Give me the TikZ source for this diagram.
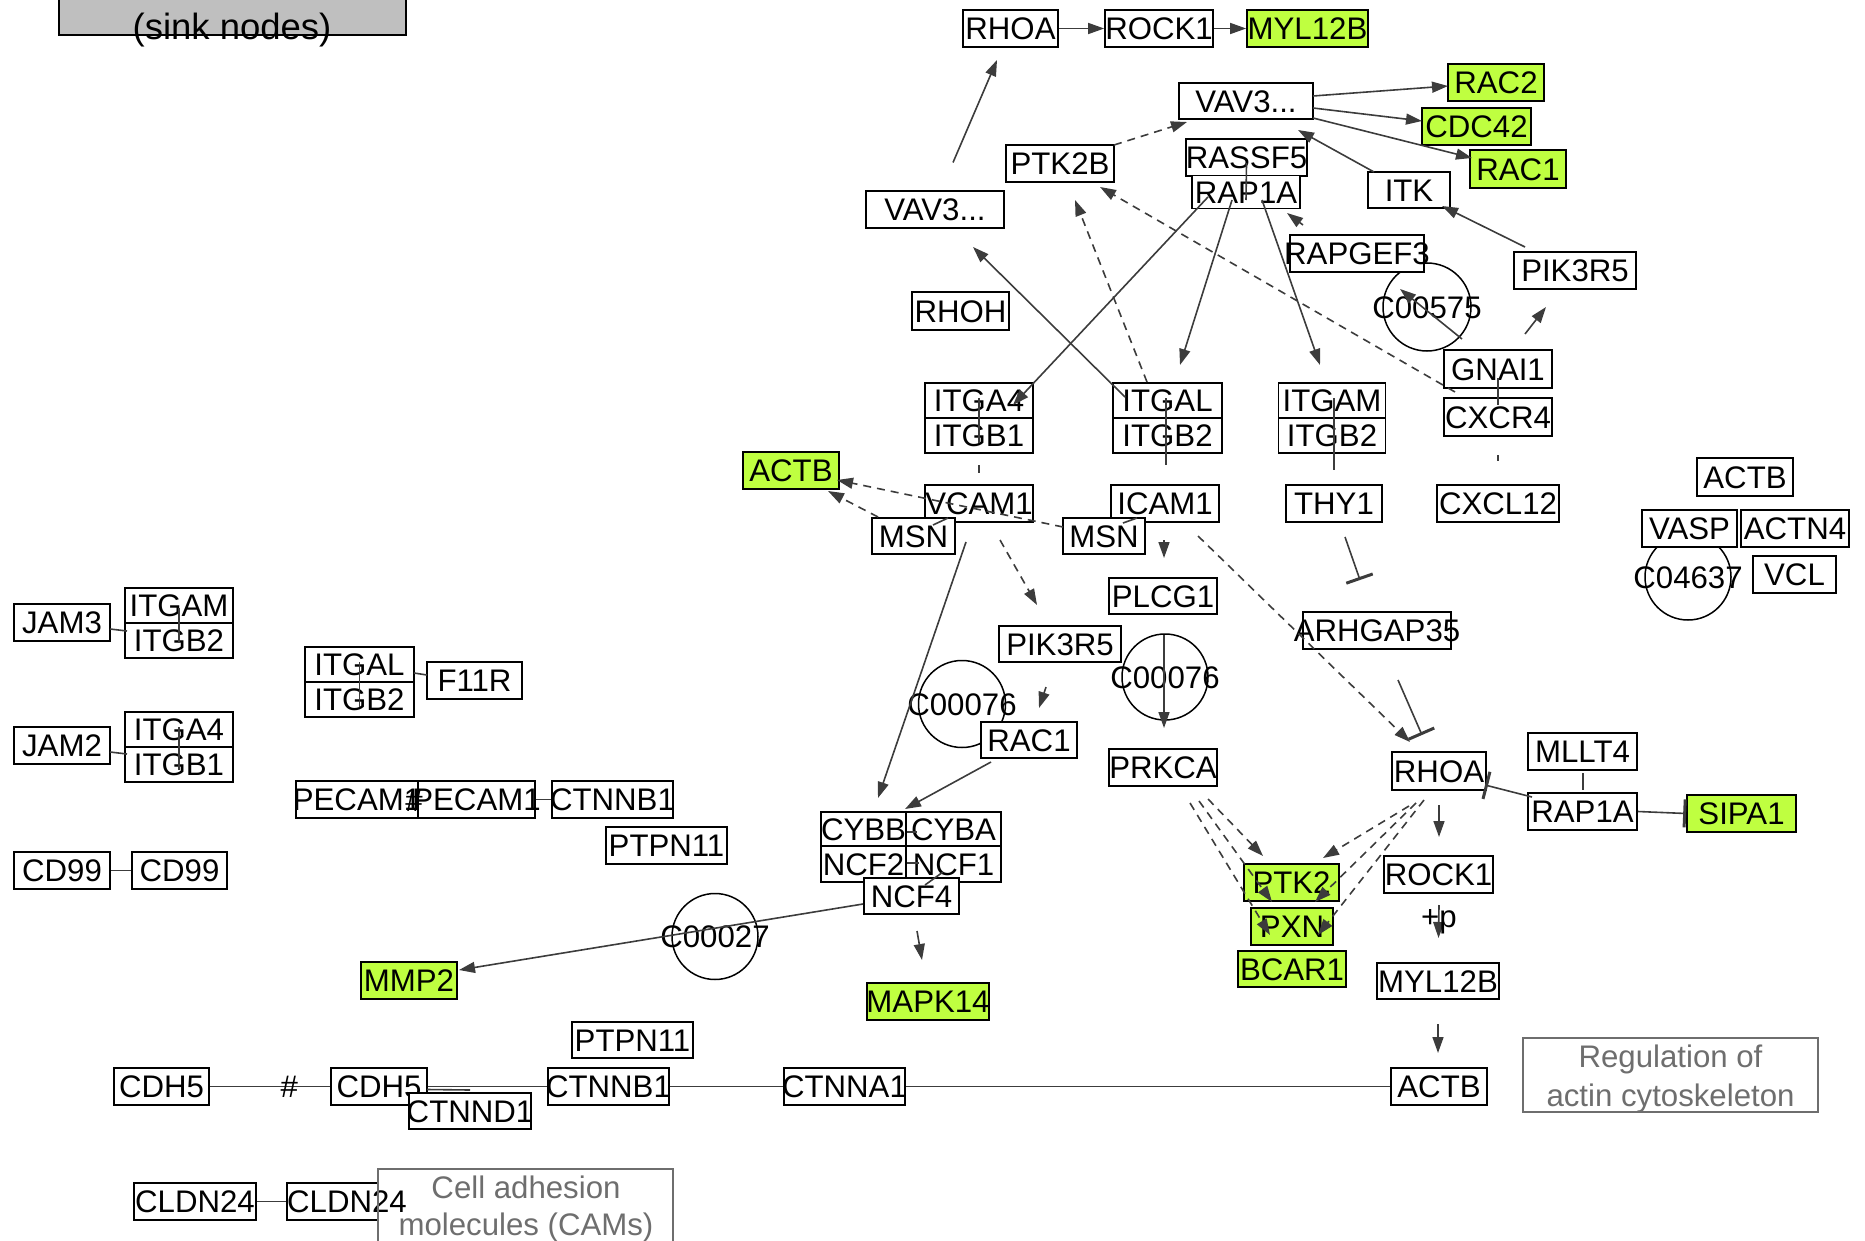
\documentclass[tikz,border=0pt]{standalone}
\usepackage{fontspec}
\setmainfont{Liberation Sans}
\usetikzlibrary{arrows.meta}
\definecolor{hit}{RGB}{191,255,64}
\definecolor{edge}{RGB}{60,60,60}
\definecolor{legendgray}{RGB}{191,191,191}
\definecolor{notegray}{RGB}{110,110,110}
\newcommand\fs{\fontsize{31.2}{36}\selectfont}
\newcommand\fl{\fontsize{36.5}{42}\selectfont}
\newcommand\mb[1]{\makebox[0pt]{#1}}
\begin{document}
\begin{tikzpicture}[x=1pt,y=-1pt,
 g/.style={draw=black,line width=1.7pt,fill=white,inner sep=0pt,minimum height=37pt,text height=22.3pt,text depth=0pt,font=\fs},
 hitg/.style={g,fill=hit},
 cpd/.style={draw=black,line width=1.5pt,circle,inner sep=0pt,text height=22.3pt,text depth=0pt,font=\fs},
 lbl/.style={inner sep=0pt,text height=22.3pt,text depth=0pt,font=\fs},
 note/.style={draw=notegray,line width=1.5pt,inner sep=0pt},
 notetext/.style={lbl,text=notegray},
 con/.style={draw=edge,line width=1.6pt},
 arr/.style={con,-{Triangle[length=16pt,width=11pt]}},
 darr/.style={arr,dash pattern=on 8pt off 6pt},
 dcon/.style={con,dash pattern=on 8pt off 6pt},
 inh/.style={con,-{Bar[width=28pt,line width=3pt]}},
]
\useasboundingbox (0,0) rectangle (1865,1241);

% legend
\node[draw=black,line width=1.7pt,fill=legendgray,minimum width=347pt,minimum height=80pt,inner sep=0pt] (legend) at (232.5,-5) {};
\node[inner sep=0pt,text height=26pt,text depth=0pt,font=\fl] (legendt) at (232,26.5) {(sink nodes)};

% compounds
\node[cpd,minimum size=88pt] (c00575) at (1427,307) {\mb{C00575}};
\node[cpd,minimum size=86pt] (c04637) at (1688,577) {\mb{C04637}};
\node[cpd,minimum size=87pt] (c00076a) at (962,704) {\mb{C00076}};
\node[cpd,minimum size=86pt] (c00076b) at (1165,677) {\mb{C00076}};
\node[cpd,minimum size=86pt] (c00027) at (715,936.5) {\mb{C00027}};

% genes
\node[g,minimum width=95pt] (rhoaT) at (1010.5,28.5) {\mb{RHOA}};
\node[g,minimum width=108pt] (rock1T) at (1159,28.5) {\mb{ROCK1}};
\node[hitg,minimum width=121pt] (myl12bT) at (1307.5,28.5) {\mb{MYL12B}};
\node[g,minimum width=134pt,minimum height=36pt] (vav3T) at (1246,101) {\mb{VAV3...}};
\node[hitg,minimum width=96pt] (rac2) at (1496,82.5) {\mb{RAC2}};
\node[hitg,minimum width=109pt] (cdc42) at (1476.5,126.5) {\mb{CDC42}};
\node[hitg,minimum width=96pt,minimum height=38pt] (rac1T) at (1518,169) {\mb{RAC1}};
\node[g,minimum width=108pt] (ptk2b) at (1060,163.5) {\mb{PTK2B}};
\node[g,minimum width=121pt] (rassf5) at (1246.5,157.5) {\mb{RASSF5}};
\node[g,minimum width=108pt,minimum height=33pt] (rap1aT) at (1246,192) {\mb{RAP1A}};
\node[g,minimum width=82pt,minimum height=36pt] (itk) at (1409,190) {\mb{ITK}};
\node[g,minimum width=138pt] (vav3L) at (935,209.5) {\mb{VAV3...}};
\node[g,minimum width=134pt] (rapgef3) at (1357,253.5) {\mb{RAPGEF3}};
\node[g,minimum width=122pt] (pik3r5R) at (1575,270.5) {\mb{PIK3R5}};
\node[g,minimum width=97pt,minimum height=38pt] (rhoh) at (960.5,311) {\mb{RHOH}};
\node[g,minimum width=108pt,minimum height=38pt] (gnai1) at (1498,369) {\mb{GNAI1}};
\node[g,minimum width=108pt,minimum height=38pt] (cxcr4) at (1498,417) {\mb{CXCR4}};
\node[g,minimum width=108pt,minimum height=35pt] (itga4M) at (979,400.5) {\mb{ITGA4}};
\node[g,minimum width=108pt,minimum height=35pt] (itgb1M) at (979,435.5) {\mb{ITGB1}};
\node[g,minimum width=109pt,minimum height=35pt] (itgalM) at (1167.5,400.5) {\mb{ITGAL}};
\node[g,minimum width=109pt,minimum height=35pt] (itgb2M) at (1167.5,435.5) {\mb{ITGB2}};
\node[g,minimum width=107pt,minimum height=35pt] (itgamM) at (1332,400.5) {\mb{ITGAM}};
\node[g,minimum width=107pt,minimum height=35pt] (itgb2N) at (1332,435.5) {\mb{ITGB2}};
\node[hitg,minimum width=96pt] (actbG) at (791,470.5) {\mb{ACTB}};
\node[g,minimum width=108pt] (vcam1) at (979,503.5) {\mb{VCAM1}};
\node[g,minimum width=108pt] (icam1) at (1165,503.5) {\mb{ICAM1}};
\node[g,minimum width=96pt] (thy1) at (1334,503.5) {\mb{THY1}};
\node[g,minimum width=122pt] (cxcl12) at (1498,503.5) {\mb{CXCL12}};
\node[g,minimum width=96pt,minimum height=38pt] (actbR) at (1745,477) {\mb{ACTB}};
\node[g,minimum width=95pt] (vasp) at (1689.5,528.5) {\mb{VASP}};
\node[g,minimum width=108pt] (actn4) at (1795,528.5) {\mb{ACTN4}};
\node[g,minimum width=83pt] (vcl) at (1794.5,574.5) {\mb{VCL}};
\node[g,minimum width=83pt,minimum height=36pt] (msnL) at (913.5,536) {\mb{MSN}};
\node[g,minimum width=82pt,minimum height=36pt] (msnM) at (1104,536) {\mb{MSN}};
\node[g,minimum width=108pt,minimum height=36pt] (plcg1) at (1163,596) {\mb{PLCG1}};
\node[g,minimum width=96pt] (jam3) at (62,622.5) {\mb{JAM3}};
\node[g,minimum width=108pt,minimum height=35pt] (itgamL) at (179,605.5) {\mb{ITGAM}};
\node[g,minimum width=108pt,minimum height=35pt] (itgb2L) at (179,640.5) {\mb{ITGB2}};
\node[g,minimum width=148pt] (arhgap35) at (1377,630.5) {\mb{ARHGAP35}};
\node[g,minimum width=122pt,minimum height=36pt] (pik3r5M) at (1060,644) {\mb{PIK3R5}};
\node[g,minimum width=109pt,minimum height=35pt] (itgalL) at (359.5,664.5) {\mb{ITGAL}};
\node[g,minimum width=109pt,minimum height=35pt] (itgb2L2) at (359.5,699.5) {\mb{ITGB2}};
\node[g,minimum width=95pt] (f11r) at (474.5,680.5) {\mb{F11R}};
\node[g,minimum width=96pt] (jam2) at (62,745.5) {\mb{JAM2}};
\node[g,minimum width=108pt,minimum height=35pt] (itga4L) at (179,729.5) {\mb{ITGA4}};
\node[g,minimum width=108pt,minimum height=35pt] (itgb1L) at (179,764.5) {\mb{ITGB1}};
\node[g,minimum width=96pt,minimum height=36pt] (rac1M) at (1029,740) {\mb{RAC1}};
\node[g,minimum width=108pt] (prkca) at (1163,767.5) {\mb{PRKCA}};
\node[g,minimum width=109pt] (mllt4) at (1582.5,751.5) {\mb{MLLT4}};
\node[g,minimum width=94pt,minimum height=38pt] (rhoaL) at (1439,771) {\mb{RHOA}};
\node[g,minimum width=122pt] (pecam1L) at (357,799.5) {\mb{PECAM1}};
\node[g,minimum width=117pt] (pecam1R) at (476.5,799.5) {\mb{PECAM1}};
\node[g,minimum width=121pt] (ctnnb1M) at (612.5,799.5) {\mb{CTNNB1}};
\node[g,minimum width=109pt] (rap1aL) at (1582.5,811.5) {\mb{RAP1A}};
\node[hitg,minimum width=109pt] (sipa1) at (1741.5,813.5) {\mb{SIPA1}};
\node[g,minimum width=85pt,minimum height=34pt] (cybb) at (863.5,829) {\mb{CYBB}};
\node[g,minimum width=95pt,minimum height=34pt] (cyba) at (953.5,829) {\mb{CYBA}};
\node[g,minimum width=85pt,minimum height=36pt] (ncf2) at (863.5,864) {\mb{NCF2}};
\node[g,minimum width=95pt,minimum height=36pt] (ncf1) at (953.5,864) {\mb{NCF1}};
\node[g,minimum width=121pt] (ptpn11U) at (666.5,845.5) {\mb{PTPN11}};
\node[g,minimum width=96pt] (cd99L) at (62,870.5) {\mb{CD99}};
\node[g,minimum width=95pt] (cd99R) at (179.5,870.5) {\mb{CD99}};
\node[hitg,minimum width=95pt] (ptk2) at (1291.5,882.5) {\mb{PTK2}};
\node[g,minimum width=109pt] (rock1L) at (1438.5,874.5) {\mb{ROCK1}};
\node[g,minimum width=95pt,minimum height=36pt] (ncf4) at (911.5,896) {\mb{NCF4}};
\node[hitg,minimum width=82pt] (pxn) at (1292,926.5) {\mb{PXN}};
\node[hitg,minimum width=96pt] (mmp2) at (409,980.5) {\mb{MMP2}};
\node[hitg,minimum width=108pt,minimum height=36pt] (bcar1) at (1292,969) {\mb{BCAR1}};
\node[g,minimum width=122pt,minimum height=36pt] (myl12bL) at (1438,981) {\mb{MYL12B}};
\node[hitg,minimum width=122pt] (mapk14) at (928,1001.5) {\mb{MAPK14}};
\node[g,minimum width=121pt,minimum height=36pt] (ptpn11L) at (632.5,1040) {\mb{PTPN11}};
\node[g,minimum width=95pt] (cdh5L) at (161.5,1086.5) {\mb{CDH5}};
\node[g,minimum width=96pt] (cdh5R) at (379,1086.5) {\mb{CDH5}};
\node[g,minimum width=122pt,minimum height=36pt] (ctnnd1) at (470,1111) {\mb{CTNND1}};
\node[g,minimum width=121pt] (ctnnb1L) at (608.5,1086.5) {\mb{CTNNB1}};
\node[g,minimum width=121pt] (ctnna1) at (844.5,1086.5) {\mb{CTNNA1}};
\node[g,minimum width=96pt] (actbL) at (1439,1086.5) {\mb{ACTB}};
\node[g,minimum width=122pt] (cldn24L) at (195,1201.5) {\mb{CLDN24}};
\node[g,minimum width=91pt] (cldn24R) at (332.5,1201.5) {\mb{\hspace*{29pt}CLDN24}};

% pathway notes
\node[note,minimum width=295pt,minimum height=74pt] (regbox) at (1670.5,1075) {};
\node[notetext] (regt1) at (1670.5,1056) {Regulation of};
\node[notetext] (regt2) at (1670.5,1095) {actin cytoskeleton};
\node[note,minimum width=295pt,minimum height=101pt] (cambox) at (525.5,1219.5) {};
\node[notetext] (camt1) at (526,1187) {Cell adhesion};
\node[notetext] (camt2) at (526,1224) {molecules (CAMs)};

% connectors: top
\draw[arr] (rhoaT.east) -- (rock1T.west);
\draw[arr] (rock1T.east) -- (myl12bT.west);
\draw[arr] ([shift={(18,-47)}]vav3L.center) -- ([shift={(-13.5,31.5)}]rhoaT.center);
\draw[darr] ([shift={(54,-18.5)}]ptk2b.center) -- ([shift={(-59,21)}]vav3T.center);
\draw[arr] ([shift={(67,-5)}]vav3T.center) -- ([shift={(-48,3.5)}]rac2.center);
\draw[arr] ([shift={(67,7)}]vav3T.center) -- ([shift={(-54.5,-5.5)}]cdc42.center);
\draw[arr] ([shift={(67,17)}]vav3T.center) -- ([shift={(-46,-11)}]rac1T.center);
\draw[arr] ([shift={(-35,-18)}]itk.center) -- ([shift={(52,29)}]vav3T.center);
\draw[arr] ([shift={(-50,-23.5)}]pik3r5R.center) -- ([shift={(33,16)}]itk.center);
\draw[con] ([shift={(0,5.5)}]rassf5.center) -- ([shift={(0,8)}]rap1aT.center);
\draw[darr] ([shift={(-54,-28.5)}]rapgef3.center) -- ([shift={(41,21)}]rap1aT.center);
\draw[arr] ([shift={(-38,5)}]rap1aT.center) -- ([shift={(34,4.5)}]itga4M.center);
\draw[arr] ([shift={(-42.5,-3.5)}]itgalM.center) -- ([shift={(38,37.5)}]vav3L.center);
\draw[arr] ([shift={(-14,8)}]rap1aT.center) -- ([shift={(12.5,-35.5)}]itgalM.center);
\draw[arr] ([shift={(16,8)}]rap1aT.center) -- ([shift={(-12,-35.5)}]itgamM.center);
\draw[darr] ([shift={(-20.5,-18.5)}]itgalM.center) -- ([shift={(15,36.5)}]ptk2b.center);
\draw[darr] ([shift={(-43,-25)}]cxcr4.center) -- ([shift={(40,23.5)}]ptk2b.center);
\draw[arr] ([shift={(-36,-30)}]gnai1.center) -- ([shift={(-27,-18)}]c00575.center);
\draw[arr] ([shift={(27,-35)}]gnai1.center) -- ([shift={(-29,36.5)}]pik3r5R.center);
\draw[con] ([shift={(0,9)}]gnai1.center) -- ([shift={(0,-12)}]cxcr4.center);
\draw[con] ([shift={(0,38)}]cxcr4.center) -- ([shift={(0,-42.5)}]cxcl12.center);

% complexes
\draw[con] ([shift={(0,-2.5)}]itga4M.center) -- ([shift={(0,7.5)}]itgb1M.center);
\draw[dcon] ([shift={(0,29.5)}]itgb1M.center) -- ([shift={(0,-30.5)}]vcam1.center);
\draw[con] ([shift={(-1.5,-2.5)}]itgalM.center) -- ([shift={(1,-38.5)}]icam1.center);
\draw[con] ([shift={(2,-2.5)}]itgamM.center) -- ([shift={(0,-33.5)}]thy1.center);
\draw[con] ([shift={(0,2.5)}]itgamL.center) -- ([shift={(0,2.5)}]itgb2L.center);
\draw[con] ([shift={(0,-2.5)}]itga4L.center) -- ([shift={(0,5.5)}]itgb1L.center);
\draw[con] ([shift={(0,-2.5)}]itgalL.center) -- ([shift={(0,7.5)}]itgb2L2.center);
\draw[con] ([shift={(48,6.5)}]jam3.center) -- ([shift={(-52,-9.5)}]itgb2L.center);
\draw[con] ([shift={(48,6.5)}]jam2.center) -- ([shift={(-52,-10.5)}]itgb1L.center);
\draw[con] ([shift={(54.5,8.5)}]itgalL.center) -- ([shift={(-47.5,-5.5)}]f11r.center);
\draw[con] (cd99L.east) -- (cd99R.west);
\draw[con] (pecam1R.east) -- (ctnnb1M.west);
\node[lbl] (pecamhash) at (414,800) {\#};
\draw[con] (cdh5L.east) -- node[lbl,pos=0.66] (cdhhash) {\#} (cdh5R.west);
\draw[con] (cdh5R.east) -- (ctnnb1L.west);
\draw[con] ([shift={(48,3)}]cdh5R.center) -- ([shift={(0,-21)}]ctnnd1.center);
\draw[con] (ctnnb1L.east) -- (ctnna1.west);
\draw[con] (ctnna1.east) -- (actbL.west);
\draw[con] (cldn24L.east) -- (cldn24R.west);

% middle
\draw[darr] ([shift={(-41,-9)}]msnM.center) -- ([shift={(46,9.5)}]actbG.center);
\draw[darr] ([shift={(-35.5,-19)}]msnL.center) -- ([shift={(37,20.5)}]actbG.center);
\draw[con] ([shift={(-31,14.5)}]vcam1.center) -- ([shift={(19.5,-11)}]msnL.center);
\draw[con] ([shift={(-28,14.5)}]icam1.center) -- ([shift={(19,-13)}]msnM.center);
\draw[darr] ([shift={(21,36.5)}]vcam1.center) -- ([shift={(-23,-39)}]pik3r5M.center);
\draw[arr] ([shift={(-13,38.5)}]vcam1.center) -- ([shift={(14.5,-31)}]cybb.center);
\draw[arr] ([shift={(-1,36.5)}]icam1.center) -- ([shift={(1,-38)}]plcg1.center);
\draw[darr] ([shift={(33,32.5)}]icam1.center) -- ([shift={(-29,-29)}]rhoaL.center);
\draw[inh] ([shift={(11,33.5)}]thy1.center) -- ([shift={(-17,-50.5)}]arhgap35.center);
\draw[inh] ([shift={(21,49.5)}]arhgap35.center) -- ([shift={(-17,-36)}]rhoaL.center);
\draw[inh] ([shift={(-50.5,-14.5)}]rap1aL.center) -- ([shift={(46,14)}]rhoaL.center);
\draw[con] ([shift={(0.5,21.5)}]mllt4.center) -- ([shift={(0.5,-21.5)}]rap1aL.center);
\draw[inh] (rap1aL.east) -- (sipa1.west);
\draw[arr] ([shift={(0,34)}]rhoaL.center) -- ([shift={(0.5,-37.5)}]rock1L.center);
\draw[arr] ([shift={(0.5,30.5)}]rock1L.center) -- node[lbl,pos=0.33] (plusp) {+p} ([shift={(0.5,-43)}]myl12bL.center);
\draw[arr] ([shift={(0,43)}]myl12bL.center) -- ([shift={(-1,-33.5)}]actbL.center);
\draw[arr] ([shift={(1,39)}]plcg1.center) -- ([shift={(1,-39.5)}]prkca.center);
\draw[arr] ([shift={(-14,43)}]pik3r5M.center) -- ([shift={(10,-32)}]rac1M.center);
\draw[arr] ([shift={(-38,22)}]rac1M.center) -- ([shift={(41.5,-20)}]cybb.center);
\draw[arr] ([shift={(-48.5,8)}]ncf4.center) -- ([shift={(50,-10.5)}]mmp2.center);
\draw[arr] ([shift={(5.5,35)}]ncf4.center) -- ([shift={(-6,-41.5)}]mapk14.center);
\draw[con] ([shift={(43.5,3)}]cybb.center) -- ([shift={(-36.5,3)}]cyba.center);
\draw[con] ([shift={(43.5,-1)}]ncf2.center) -- ([shift={(-34.5,-1)}]ncf1.center);
\draw[con] ([shift={(13.5,-11)}]ncf4.center) -- ([shift={(-10.5,8)}]ncf1.center);

% PRKCA / RHOA to focal adhesion
\draw[darr] ([shift={(45,31.5)}]prkca.center) -- ([shift={(-28.5,-26.5)}]ptk2.center);
\draw[darr] ([shift={(36,33.5)}]prkca.center) -- ([shift={(-19.5,19.5)}]ptk2.center);
\draw[darr] ([shift={(27,35.5)}]prkca.center) -- ([shift={(-22,8.5)}]pxn.center);
\draw[darr] ([shift={(-30,35)}]rhoaL.center) -- ([shift={(31.5,-24.5)}]ptk2.center);
\draw[darr] ([shift={(-23,32)}]rhoaL.center) -- ([shift={(23.5,19.5)}]ptk2.center);
\draw[darr] ([shift={(-15,29)}]rhoaL.center) -- ([shift={(26,8.5)}]pxn.center);
\end{tikzpicture}
\end{document}
